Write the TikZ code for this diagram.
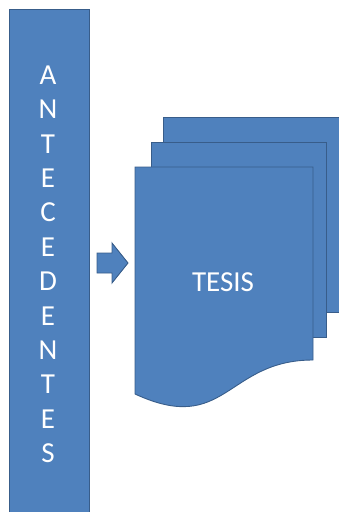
\documentclass[tikz,border=0pt]{standalone}
\usepackage{fontspec}
\setmainfont{Carlito}
\usetikzlibrary{positioning}
\definecolor{docblue}{HTML}{4F81BD}
\definecolor{docedge}{HTML}{385D8A}

\begin{document}
\begin{tikzpicture}[x=1pt,y=-1pt,
    hoja/.style={fill=docblue,draw=docedge,line width=0.9pt},
    letra/.style={text=white,font=\fontsize{29}{29}\selectfont,inner sep=0pt}]
    \useasboundingbox (0,0) rectangle (339,512);
    \clip (0,0) rectangle (339,512);
    % barra lateral
    \node[hoja,anchor=north west,inner sep=0pt,minimum width=80pt,minimum height=520pt] (barra) at (9,9) {};
    \foreach \l [count=\i] in {A,N,T,E,C,E,D,E,N,T,E,S}
      \node[letra] (l\i) at (48,{75+34.4*(\i-1)}) {\l};
    % flecha
    \draw[hoja] (97,253) -- (112,253) -- (112,243) -- (128,263) -- (112,283) -- (112,273) -- (97,273) -- cycle;
    % hojas
    \draw[hoja] (163,117) rectangle (350,312);
    \draw[hoja] (151,142) rectangle (326,337);
    \draw[hoja] (135,167) -- (313,167) -- (313,360)
      .. controls (226,360) and (226,436) .. (135,394) -- cycle;
    \node[letra] (tesis) at (223,282) {TESIS};
\end{tikzpicture}
\end{document}
